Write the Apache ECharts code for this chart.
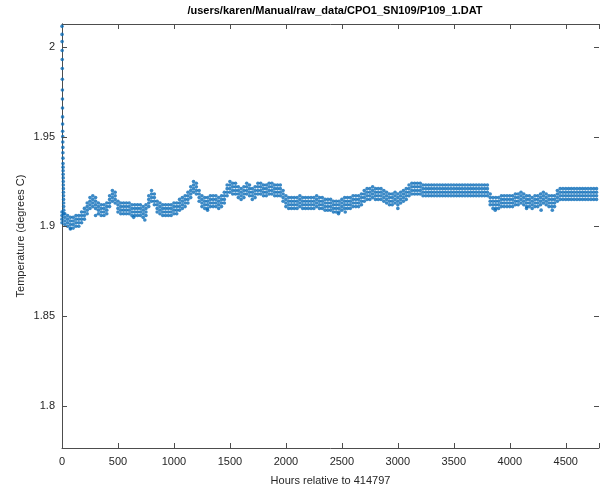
<!DOCTYPE html>
<html>
<head>
<meta charset="utf-8">
<script src="https://cdn.jsdelivr.net/npm/echarts@6/dist/echarts.min.js"></script>
<style>
  html, body { margin: 0; padding: 0; background: #fff; }
  #chart { width: 608px; height: 493px; }
</style>
</head>
<body>
<div id="chart"></div>
<script>
const chartTitle = '/users/karen/Manual/raw_data/CPO1_SN109/P109_1.DAT'
const xName = 'Hours relative to 414797'
const yName = 'Temperature (degrees C)'
const yTicks = [1.8, 1.85, 1.9, 1.95, 2]

// start-up transient (first hours)
const spikeHours = [0, 0.5, 1, 1.5, 2, 2.5, 3, 3.5, 4, 4.5, 5, 5.5, 6, 6.5, 7, 7.5, 8, 8.5, 9, 9.5,
  10, 10.5, 11, 11.5, 12, 12.5, 13, 13.5, 14, 14.5, 15, 15.5, 16]
const spikeTemps = [2.0115, 2.007, 2.003, 1.998, 1.993, 1.988, 1.982, 1.976, 1.971, 1.966, 1.961,
  1.957, 1.953, 1.95, 1.947, 1.944, 1.941, 1.938, 1.935, 1.933, 1.931, 1.929, 1.927, 1.925, 1.923,
  1.921, 1.919, 1.917, 1.915, 1.913, 1.911, 1.909, 1.907]

// sampled every 25 h
const hours = [
  0, 25, 50, 75, 100, 125, 150, 175, 200, 225,
  250, 275, 300, 325, 350, 375, 400, 425, 450, 475,
  500, 525, 550, 575, 600, 625, 650, 675, 700, 725,
  750, 775, 800, 825, 850, 875, 900, 925, 950, 975,
  1000, 1025, 1050, 1075, 1100, 1125, 1150, 1175, 1200, 1225,
  1250, 1275, 1300, 1325, 1350, 1375, 1400, 1425, 1450, 1475,
  1500, 1525, 1550, 1575, 1600, 1625, 1650, 1675, 1700, 1725,
  1750, 1775, 1800, 1825, 1850, 1875, 1900, 1925, 1950, 1975,
  2000, 2025, 2050, 2075, 2100, 2125, 2150, 2175, 2200, 2225,
  2250, 2275, 2300, 2325, 2350, 2375, 2400, 2425, 2450, 2475,
  2500, 2525, 2550, 2575, 2600, 2625, 2650, 2675, 2700, 2725,
  2750, 2775, 2800, 2825, 2850, 2875, 2900, 2925, 2950, 2975,
  3000, 3025, 3050, 3075, 3100, 3125, 3150, 3175, 3200, 3225,
  3250, 3275, 3300, 3325, 3350, 3375, 3400, 3425, 3450, 3475,
  3500, 3525, 3550, 3575, 3600, 3625, 3650, 3675, 3700, 3725,
  3750, 3775, 3800, 3825, 3850, 3875, 3900, 3925, 3950, 3975,
  4000, 4025, 4050, 4075, 4100, 4125, 4150, 4175, 4200, 4225,
  4250, 4275, 4300, 4325, 4350, 4375, 4400, 4425, 4450, 4475,
  4500, 4525, 4550, 4575, 4600, 4625, 4650, 4675, 4700, 4725, 4750, 4775]

// readings spread in each sample: top, upper-mid, lower-mid, bottom
const tempTop = [
  1.908, 1.907, 1.906, 1.905, 1.905, 1.906, 1.906, 1.908, 1.910, 1.913,
  1.916, 1.917, 1.916, 1.913, 1.912, 1.912, 1.913, 1.917, 1.920, 1.919,
  1.914, 1.913, 1.913, 1.913, 1.913, 1.912, 1.912, 1.912, 1.912, 1.911,
  1.912, 1.917, 1.920, 1.918, 1.914, 1.913, 1.912, 1.912, 1.912, 1.912,
  1.913, 1.913, 1.915, 1.916, 1.917, 1.919, 1.922, 1.925, 1.924, 1.920,
  1.917, 1.916, 1.916, 1.917, 1.917, 1.917, 1.916, 1.917, 1.919, 1.923,
  1.925, 1.924, 1.924, 1.922, 1.921, 1.922, 1.924, 1.923, 1.921, 1.922,
  1.924, 1.924, 1.923, 1.923, 1.924, 1.924, 1.923, 1.923, 1.923, 1.920,
  1.917, 1.916, 1.916, 1.916, 1.916, 1.917, 1.916, 1.916, 1.916, 1.916,
  1.916, 1.917, 1.916, 1.916, 1.915, 1.915, 1.915, 1.914, 1.914, 1.914,
  1.915, 1.916, 1.916, 1.916, 1.917, 1.917, 1.917, 1.918, 1.920, 1.921,
  1.921, 1.922, 1.921, 1.921, 1.921, 1.920, 1.919, 1.918, 1.918, 1.919,
  1.918, 1.919, 1.920, 1.921, 1.923, 1.924, 1.924, 1.924, 1.924, 1.923,
  1.923, 1.923, 1.923, 1.923, 1.923, 1.923, 1.923, 1.923, 1.923, 1.923,
  1.923, 1.923, 1.923, 1.923, 1.923, 1.923, 1.923, 1.923, 1.923, 1.923,
  1.923, 1.923, 1.923, 1.918, 1.916, 1.916, 1.916, 1.917, 1.917, 1.917,
  1.917, 1.917, 1.918, 1.918, 1.919, 1.918, 1.917, 1.917, 1.916, 1.917,
  1.917, 1.918, 1.919, 1.918, 1.917, 1.917, 1.917, 1.920, 1.921, 1.921,
  1.921, 1.921, 1.921, 1.921, 1.921, 1.921, 1.921, 1.921, 1.921, 1.921, 1.921, 1.921]
const tempUpperMid = [
  1.906, 1.905, 1.904, 1.903, 1.903, 1.904, 1.904, 1.906, 1.908, 1.911,
  1.914, 1.915, 1.914, 1.911, 1.910, 1.910, 1.911, 1.915, 1.918, 1.917,
  1.912, 1.911, 1.911, 1.911, 1.911, 1.910, 1.910, 1.910, 1.910, 1.909,
  1.910, 1.915, 1.918, 1.916, 1.912, 1.911, 1.910, 1.910, 1.910, 1.910,
  1.911, 1.911, 1.913, 1.914, 1.915, 1.917, 1.920, 1.923, 1.922, 1.918,
  1.915, 1.914, 1.914, 1.915, 1.915, 1.915, 1.914, 1.915, 1.917, 1.921,
  1.923, 1.922, 1.922, 1.920, 1.919, 1.920, 1.922, 1.921, 1.919, 1.920,
  1.922, 1.922, 1.921, 1.921, 1.922, 1.922, 1.921, 1.921, 1.921, 1.918,
  1.915, 1.914, 1.914, 1.914, 1.914, 1.915, 1.914, 1.914, 1.914, 1.914,
  1.914, 1.915, 1.914, 1.914, 1.913, 1.913, 1.913, 1.912, 1.912, 1.912,
  1.913, 1.914, 1.914, 1.914, 1.915, 1.915, 1.915, 1.916, 1.918, 1.919,
  1.919, 1.920, 1.919, 1.919, 1.919, 1.918, 1.917, 1.916, 1.916, 1.917,
  1.916, 1.917, 1.918, 1.919, 1.921, 1.922, 1.922, 1.922, 1.922, 1.921,
  1.921, 1.921, 1.921, 1.921, 1.921, 1.921, 1.921, 1.921, 1.921, 1.921,
  1.921, 1.921, 1.921, 1.921, 1.921, 1.921, 1.921, 1.921, 1.921, 1.921,
  1.921, 1.921, 1.921, 1.916, 1.914, 1.914, 1.914, 1.915, 1.915, 1.915,
  1.915, 1.915, 1.916, 1.916, 1.917, 1.916, 1.915, 1.915, 1.914, 1.915,
  1.915, 1.916, 1.917, 1.916, 1.915, 1.915, 1.915, 1.918, 1.919, 1.919,
  1.919, 1.919, 1.919, 1.919, 1.919, 1.919, 1.919, 1.919, 1.919, 1.919, 1.919, 1.919]
const tempLowerMid = [
  1.904, 1.903, 1.902, 1.901, 1.901, 1.902, 1.902, 1.904, 1.906, 1.909,
  1.912, 1.913, 1.912, 1.909, 1.908, 1.908, 1.909, 1.913, 1.916, 1.915,
  1.910, 1.909, 1.909, 1.909, 1.909, 1.908, 1.908, 1.908, 1.908, 1.907,
  1.908, 1.913, 1.916, 1.914, 1.910, 1.909, 1.908, 1.908, 1.908, 1.908,
  1.909, 1.909, 1.911, 1.912, 1.913, 1.915, 1.918, 1.921, 1.920, 1.916,
  1.913, 1.912, 1.912, 1.913, 1.913, 1.913, 1.912, 1.913, 1.915, 1.919,
  1.921, 1.920, 1.920, 1.918, 1.917, 1.918, 1.920, 1.919, 1.917, 1.918,
  1.920, 1.920, 1.919, 1.919, 1.920, 1.920, 1.919, 1.919, 1.919, 1.916,
  1.913, 1.912, 1.912, 1.912, 1.912, 1.913, 1.912, 1.912, 1.912, 1.912,
  1.912, 1.913, 1.912, 1.912, 1.911, 1.911, 1.911, 1.910, 1.910, 1.910,
  1.911, 1.912, 1.912, 1.912, 1.913, 1.913, 1.913, 1.914, 1.916, 1.917,
  1.917, 1.918, 1.917, 1.917, 1.917, 1.916, 1.915, 1.914, 1.914, 1.915,
  1.914, 1.915, 1.916, 1.917, 1.919, 1.920, 1.920, 1.920, 1.920, 1.919,
  1.919, 1.919, 1.919, 1.919, 1.919, 1.919, 1.919, 1.919, 1.919, 1.919,
  1.919, 1.919, 1.919, 1.919, 1.919, 1.919, 1.919, 1.919, 1.919, 1.919,
  1.919, 1.919, 1.919, 1.914, 1.912, 1.912, 1.912, 1.913, 1.913, 1.913,
  1.913, 1.913, 1.914, 1.914, 1.915, 1.914, 1.913, 1.913, 1.912, 1.913,
  1.913, 1.914, 1.915, 1.914, 1.913, 1.913, 1.913, 1.916, 1.917, 1.917,
  1.917, 1.917, 1.917, 1.917, 1.917, 1.917, 1.917, 1.917, 1.917, 1.917, 1.917, 1.917]
const tempBottom = [
  1.902, 1.901, 1.900, 1.899, 1.899, 1.900, 1.900, 1.902, 1.904, 1.907,
  1.910, 1.911, 1.910, 1.907, 1.906, 1.906, 1.907, 1.911, 1.914, 1.913,
  1.908, 1.907, 1.907, 1.907, 1.907, 1.906, 1.906, 1.906, 1.906, 1.905,
  1.906, 1.911, 1.914, 1.912, 1.908, 1.907, 1.906, 1.906, 1.906, 1.906,
  1.907, 1.907, 1.909, 1.910, 1.911, 1.913, 1.916, 1.919, 1.918, 1.914,
  1.911, 1.910, 1.910, 1.911, 1.911, 1.911, 1.910, 1.911, 1.913, 1.917,
  1.919, 1.918, 1.918, 1.916, 1.915, 1.916, 1.918, 1.917, 1.915, 1.916,
  1.918, 1.918, 1.917, 1.917, 1.918, 1.918, 1.917, 1.917, 1.917, 1.914,
  1.911, 1.910, 1.910, 1.910, 1.910, 1.911, 1.910, 1.910, 1.910, 1.910,
  1.910, 1.911, 1.910, 1.910, 1.909, 1.909, 1.909, 1.908, 1.908, 1.908,
  1.909, 1.910, 1.910, 1.910, 1.911, 1.911, 1.911, 1.912, 1.914, 1.915,
  1.915, 1.916, 1.915, 1.915, 1.915, 1.914, 1.913, 1.912, 1.912, 1.913,
  1.912, 1.913, 1.914, 1.915, 1.917, 1.918, 1.918, 1.918, 1.918, 1.917,
  1.917, 1.917, 1.917, 1.917, 1.917, 1.917, 1.917, 1.917, 1.917, 1.917,
  1.917, 1.917, 1.917, 1.917, 1.917, 1.917, 1.917, 1.917, 1.917, 1.917,
  1.917, 1.917, 1.917, 1.912, 1.910, 1.910, 1.910, 1.911, 1.911, 1.911,
  1.911, 1.911, 1.912, 1.912, 1.913, 1.912, 1.911, 1.911, 1.910, 1.911,
  1.911, 1.912, 1.913, 1.912, 1.911, 1.911, 1.911, 1.914, 1.915, 1.915,
  1.915, 1.915, 1.915, 1.915, 1.915, 1.915, 1.915, 1.915, 1.915, 1.915, 1.915, 1.915]

// isolated low readings
const outlierHours = [75, 300, 640, 740, 1300, 2470, 2530, 3000, 3870, 4150, 4280, 4380]
const outlierTemps = [1.8985, 1.906, 1.905, 1.9035, 1.909, 1.907, 1.908, 1.910, 1.909, 1.910, 1.909, 1.909]

const xMin = 0
const xMax = 4797
const yMin = 1.7764
const yMax = 2.0128

const axisColor = '#4d4d4d'
const textColor = '#262626'
const dotColor = '#0a6cb8'
const fontFamily = '"Liberation Sans", Arial, sans-serif'

const points = []
;[tempTop, tempUpperMid, tempLowerMid, tempBottom].forEach((row) => {
  row.forEach((v, i) => points.push([hours[i], v]))
})
spikeHours.forEach((h, i) => points.push([h, spikeTemps[i]]))
outlierHours.forEach((h, i) => points.push([h, outlierTemps[i]]))

const myChart = echarts.init(document.getElementById('chart'))

const lineStyle = { show: true, lineStyle: { color: axisColor, width: 1 } }
const tickStyle = { show: true, inside: true, length: 5, lineStyle: { color: axisColor, width: 1 } }

myChart.setOption({
  animation: false,
  backgroundColor: '#fff',
  title: {
    text: chartTitle,
    left: 330,
    textAlign: 'center',
    top: 0,
    textStyle: { color: '#000', fontSize: 11, fontWeight: 'bold', fontFamily },
  },
  grid: { left: 62, right: 9, top: 24, bottom: 45 },
  xAxis: [
    {
      type: 'value',
      min: xMin,
      max: xMax,
      interval: 500,
      name: xName,
      nameLocation: 'middle',
      nameGap: 27,
      nameTextStyle: { color: textColor, fontSize: 11, fontFamily },
      axisLine: lineStyle,
      axisTick: tickStyle,
      axisLabel: {
        color: textColor,
        fontSize: 11,
        fontFamily,
        margin: 8,
        formatter: (v) => (v % 500 === 0 ? String(v) : ''),
      },
      splitLine: { show: false },
    },
    {
      type: 'value',
      position: 'top',
      min: xMin,
      max: xMax,
      interval: 500,
      axisLine: lineStyle,
      axisTick: tickStyle,
      axisLabel: { show: false },
      splitLine: { show: false },
    },
  ],
  yAxis: [
    {
      type: 'value',
      position: 'left',
      min: yMin,
      max: yMax,
      name: yName,
      nameLocation: 'middle',
      nameGap: 36,
      nameMoveOverlap: false,
      nameTextStyle: { color: textColor, fontSize: 11, fontFamily },
      axisLine: lineStyle,
      axisTick: { show: false },
      axisLabel: { color: textColor, fontSize: 11, fontFamily, margin: 7, customValues: yTicks },
      splitLine: { show: false },
    },
    {
      type: 'value',
      position: 'right',
      min: yMin,
      max: yMax,
      axisLine: lineStyle,
      axisTick: { show: false },
      axisLabel: { show: false },
      splitLine: { show: false },
    },
  ],
  series: [
    {
      type: 'scatter',
      symbol: 'circle',
      symbolSize: 3.6,
      itemStyle: { color: dotColor },
      data: points,
    },
  ],
})

// y ticks on both sides, placed with the y scale
const leftX = myChart.convertToPixel({ xAxisIndex: 0 }, xMin)
const rightX = myChart.convertToPixel({ xAxisIndex: 0 }, xMax)
const tickLines = []
yTicks.forEach((v) => {
  const y = Math.round(myChart.convertToPixel({ yAxisIndex: 0 }, v)) + 0.5
  tickLines.push({ x1: leftX, x2: leftX + 5, y })
  tickLines.push({ x1: rightX - 5, x2: rightX, y })
})
myChart.setOption({
  graphic: tickLines.map((t) => ({
    type: 'line',
    shape: { x1: t.x1, y1: t.y, x2: t.x2, y2: t.y },
    style: { stroke: axisColor, lineWidth: 1 },
    z: 100,
    silent: true,
  })),
})
</script>
</body>
</html>
